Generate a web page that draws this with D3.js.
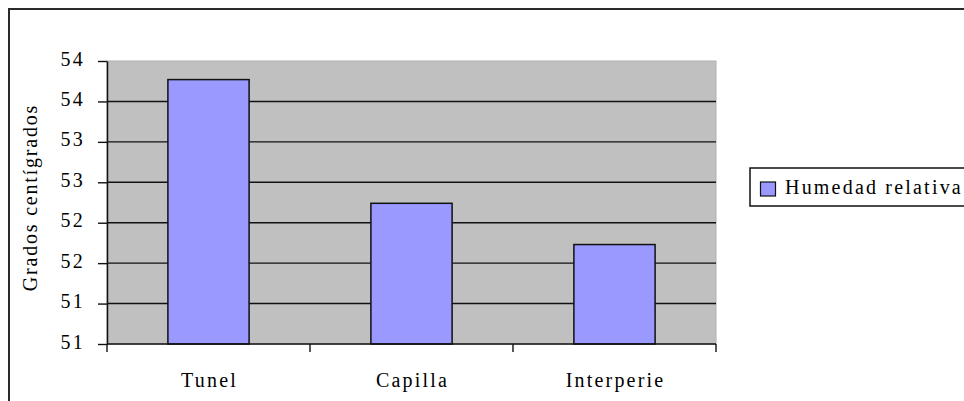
<!DOCTYPE html>
<html>
<head>
<meta charset="utf-8">
<script src="https://cdn.jsdelivr.net/npm/d3@7"></script>
<style>
  html, body { margin: 0; padding: 0; background: #fff; overflow: hidden; }
  svg { display: block; }
  svg text { font-family: 'Liberation Serif', 'Times New Roman', 'DejaVu Serif', serif !important; font-size: 20px !important; fill: #000; letter-spacing: 2.2px; }
</style>
</head>
<body>
<svg id="chart" width="964" height="401" style="font-family: 'Liberation Serif', 'DejaVu Serif', serif;"></svg>
<script>
// Relative humidity by site
const categories = ["Tunel", "Capilla", "Interperie"];
const humedad = [54.02, 52.49, 51.98];
const seriesName = "Humedad relativa";
const yTitle = "Grados centígrados";
const yTickValues = [50.75, 51.25, 51.75, 52.25, 52.75, 53.25, 53.75, 54.25];
const yTickLabels = ["51", "51", "52", "52", "53", "53", "54", "54"];

const serif = "'Liberation Serif', 'Times New Roman', 'DejaVu Serif', serif";
const svg = d3.select("#chart");
const plot = { left: 107, right: 716, top: 61, bottom: 344 };

const x = d3.scaleBand()
  .domain(categories)
  .range([plot.left, plot.right])
  .paddingInner(0.6)
  .paddingOuter(0.3);

const y = d3.scaleLinear()
  .domain([yTickValues[0], yTickValues[yTickValues.length - 1]])
  .range([plot.bottom, plot.top]);

// Chart frame (runs off the right and bottom edges)
svg.append("rect")
  .attr("x", 9).attr("y", 9)
  .attr("width", 1200).attr("height", 600)
  .attr("fill", "none").attr("stroke", "#2a2a2a").attr("stroke-width", 2);

// Plot area background
svg.append("rect")
  .attr("x", plot.left).attr("y", plot.top)
  .attr("width", plot.right - plot.left).attr("height", plot.bottom - plot.top)
  .attr("fill", "#c0c0c0").attr("stroke", "#b0b0b0").attr("stroke-width", 1);

// Horizontal gridlines
svg.append("g")
  .selectAll("line")
  .data(yTickValues.slice(1, -1))
  .join("line")
  .attr("x1", plot.left).attr("x2", plot.right)
  .attr("y1", d => y(d)).attr("y2", d => y(d))
  .attr("stroke", "#111").attr("stroke-width", 1.4);

// Bars
svg.append("g")
  .selectAll("rect")
  .data(categories)
  .join("rect")
  .attr("x", d => x(d))
  .attr("y", (d, i) => y(humedad[i]))
  .attr("width", x.bandwidth())
  .attr("height", (d, i) => y.range()[0] - y(humedad[i]))
  .attr("fill", "#9999ff")
  .attr("stroke", "#111").attr("stroke-width", 1.5);

// Y axis
const yAxis = d3.axisLeft(y)
  .tickValues(yTickValues)
  .tickFormat((d, i) => yTickLabels[i])
  .tickSize(9)
  .tickSizeOuter(0)
  .tickPadding(13);
const gy = svg.append("g")
  .attr("transform", `translate(${plot.left},0)`)
  .call(yAxis)
  .attr("font-family", serif)
  .attr("font-size", 20);
gy.select(".domain").attr("stroke", "#111").attr("stroke-width", 1.5);
gy.selectAll(".tick line").attr("stroke", "#111").attr("stroke-width", 1.4);
gy.selectAll(".tick text").attr("dy", "0.2em");

// X axis with tick marks on category boundaries
const boundaries = [plot.left].concat(categories.map(c => x(c) + x.bandwidth() + x.step() * x.paddingInner() / 2));
const gx = svg.append("g").attr("font-family", serif).attr("font-size", 20);
gx.append("line")
  .attr("x1", plot.left).attr("x2", plot.right)
  .attr("y1", plot.bottom).attr("y2", plot.bottom)
  .attr("stroke", "#111").attr("stroke-width", 1.5);
gx.selectAll("line.tk")
  .data(boundaries)
  .join("line").attr("class", "tk")
  .attr("x1", d => d).attr("x2", d => d)
  .attr("y1", plot.bottom).attr("y2", plot.bottom + 8)
  .attr("stroke", "#111").attr("stroke-width", 1.4);
gx.selectAll("text")
  .data(categories)
  .join("text")
  .attr("x", d => x(d) + x.bandwidth() / 2 + 1)
  .attr("y", 387)
  .attr("text-anchor", "middle")
  .text(d => d);

// Y axis title
svg.append("text")
  .attr("font-family", serif).attr("font-size", 20)
  .attr("transform", `translate(37,${(plot.top + plot.bottom) / 2 - 5}) rotate(-90)`)
  .attr("text-anchor", "middle")
  .style("letter-spacing", "1.8px")
  .text(yTitle);

// Legend
const lg = svg.append("g").attr("font-family", serif).attr("font-size", 20);
lg.append("rect")
  .attr("x", 750).attr("y", 168)
  .attr("width", 300).attr("height", 38)
  .attr("fill", "#fff").attr("stroke", "#111").attr("stroke-width", 1.5);
lg.append("rect")
  .attr("x", 760.5).attr("y", 182)
  .attr("width", 15).attr("height", 14)
  .attr("fill", "#9999ff").attr("stroke", "#111").attr("stroke-width", 1.2);
lg.append("text")
  .attr("x", 785).attr("y", 194)
  .text(seriesName);
</script>
</body>
</html>
